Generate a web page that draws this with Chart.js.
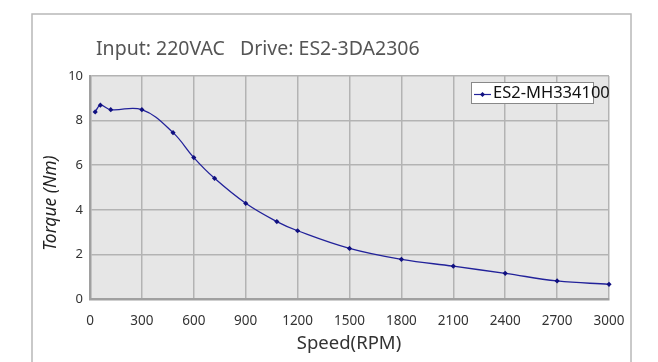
<!DOCTYPE html>
<html>
<head>
<meta charset="utf-8">
<script src="https://cdn.jsdelivr.net/npm/chart.js@4.4.1/dist/chart.umd.min.js"></script>
<style>
  html, body { margin: 0; padding: 0; background: #fff; }
  #wrap { width: 658px; height: 362px; position: relative; }
</style>
</head>
<body>
<div id="wrap"><canvas id="chart" width="658" height="362"></canvas></div>
<script>
// データ
const speeds = [30, 60, 120, 300, 480, 600, 720, 900, 1080, 1200, 1500, 1800, 2100, 2400, 2700, 3000];
const torques = [8.39, 8.69, 8.49, 8.49, 7.46, 6.34, 5.41, 4.29, 3.47, 3.06, 2.27, 1.78, 1.47, 1.15, 0.81, 0.66];
const xTicks = [0, 300, 600, 900, 1200, 1500, 1800, 2100, 2400, 2700, 3000];
const yTicks = [0, 2, 4, 6, 8, 10];
const seriesName = 'ES2-MH334100';
const titleText = 'Input: 220VAC   Drive: ES2-3DA2306';

const FONT = '"Noto Sans", "Open Sans", sans-serif';
const lineColor = '#22229a';

// 枠・タイトル・軸タイトル・凡例を描く
const decor = {
  id: 'decor',
  beforeDraw(chart) {
    const ctx = chart.ctx;
    const a = chart.chartArea;
    ctx.save();
    ctx.fillStyle = '#fff';
    ctx.fillRect(0, 0, chart.width, chart.height);
    // 外枠
    ctx.strokeStyle = '#b8b8b8';
    ctx.lineWidth = 1.5;
    ctx.strokeRect(32, 14, 599, 400);
    // プロット背景
    ctx.fillStyle = '#e6e6e6';
    ctx.fillRect(a.left, a.top, a.right - a.left, a.bottom - a.top);
    ctx.restore();
  },
  afterDraw(chart) {
    const ctx = chart.ctx;
    ctx.save();
    // タイトル
    ctx.fillStyle = '#555';
    ctx.font = '19.5px ' + FONT;
    ctx.textBaseline = 'middle';
    ctx.textAlign = 'left';
    ctx.fillText(titleText, 96, 49);
    // X軸タイトル
    ctx.fillStyle = '#333';
    ctx.font = '18.5px ' + FONT;
    ctx.textAlign = 'center';
    ctx.fillText('Speed(RPM)', 349, 344);
    // Y軸タイトル
    ctx.save();
    ctx.translate(51, 203);
    ctx.rotate(-Math.PI / 2);
    ctx.fillStyle = '#222';
    ctx.font = 'italic 17.5px ' + FONT;
    ctx.fillText('Torque (Nm)', 0, 0);
    ctx.restore();
    // 凡例
    ctx.fillStyle = '#fff';
    ctx.fillRect(471, 82, 122, 21);
    ctx.strokeStyle = '#888';
    ctx.lineWidth = 1;
    ctx.strokeRect(471.5, 82.5, 122, 21);
    ctx.strokeStyle = lineColor;
    ctx.lineWidth = 1.2;
    ctx.beginPath();
    ctx.moveTo(474, 94.5);
    ctx.lineTo(491, 94.5);
    ctx.stroke();
    ctx.fillStyle = '#101080';
    ctx.beginPath();
    ctx.moveTo(482.5, 92);
    ctx.lineTo(485, 94.5);
    ctx.lineTo(482.5, 97);
    ctx.lineTo(480, 94.5);
    ctx.closePath();
    ctx.fill();
    ctx.fillStyle = '#111';
    ctx.font = '16.5px ' + FONT;
    ctx.textAlign = 'left';
    ctx.fillText(seriesName, 493, 93);
    ctx.restore();
  }
};

new Chart(document.getElementById('chart'), {
  type: 'line',
  data: {
    datasets: [{
      label: seriesName,
      data: speeds.map((s, i) => ({ x: s, y: torques[i] })),
      borderColor: lineColor,
      borderWidth: 1.3,
      backgroundColor: '#101080',
      pointStyle: 'rectRot',
      pointRadius: 2.6,
      pointBorderWidth: 0,
      tension: 0.4,
      fill: false,
      clip: false
    }]
  },
  options: {
    responsive: false,
    animation: false,
    devicePixelRatio: 1,
    layout: { padding: { left: 0, right: 49, top: 76, bottom: 0 } },
    plugins: {
      legend: { display: false },
      tooltip: { enabled: false },
      title: { display: false }
    },
    scales: {
      x: {
        type: 'linear',
        min: 0,
        max: 3000,
        afterBuildTicks(scale) { scale.ticks = xTicks.map(v => ({ value: v })); },
        afterFit(scale) { scale.height = 63; },
        ticks: {
          color: '#333',
          font: { family: FONT, size: 13.5 },
          padding: 14,
          maxRotation: 0,
          autoSkip: false,
          callback: v => String(v)
        },
        grid: { color: '#b3b3b3', lineWidth: 1.5, drawTicks: false },
        border: { color: '#a0a0a0', width: 2.5 }
      },
      y: {
        min: 0,
        max: 10,
        afterBuildTicks(scale) { scale.ticks = yTicks.map(v => ({ value: v })); },
        afterFit(scale) { scale.width = 90; },
        ticks: {
          color: '#333',
          font: { family: FONT, size: 13 },
          padding: 7,
          callback: v => String(v)
        },
        grid: { color: '#b3b3b3', lineWidth: 1.5, drawTicks: false },
        border: { color: '#a0a0a0', width: 2.5 }
      }
    }
  },
  plugins: [decor]
});
</script>
</body>
</html>
